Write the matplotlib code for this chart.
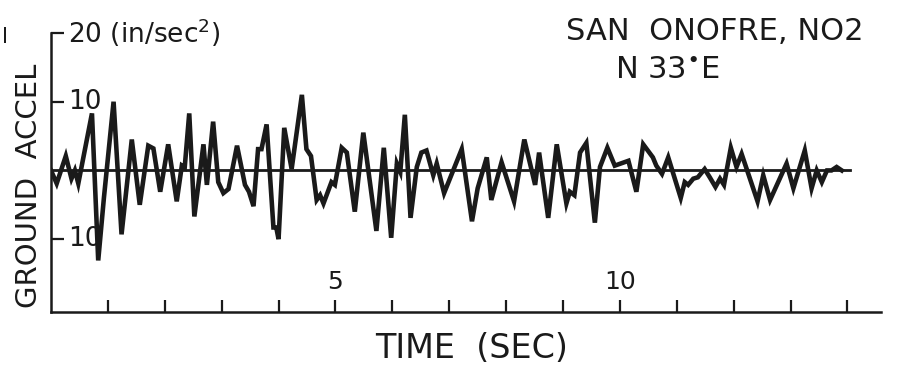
import numpy as np
import matplotlib
matplotlib.use('Agg')
import matplotlib.pyplot as plt

# ground acceleration trace (time in sec, accel in in/sec^2)
time_sec = [0.00, 0.10, 0.26, 0.36, 0.42, 0.48, 0.72, 0.83, 0.93, 1.10,
            1.24, 1.42, 1.56, 1.71, 1.80, 1.92, 2.06, 2.21, 2.30, 2.35,
            2.43, 2.52, 2.68, 2.74, 2.85, 2.94, 3.03, 3.12, 3.27, 3.41,
            3.48, 3.56, 3.64, 3.70, 3.79, 3.91, 3.96, 4.00, 4.10, 4.23,
            4.41, 4.49, 4.57, 4.67, 4.73, 4.79, 4.93, 4.99, 5.11, 5.20,
            5.34, 5.49, 5.72, 5.85, 5.98, 6.08, 6.14, 6.22, 6.32, 6.43,
            6.51, 6.60, 6.72, 6.78, 6.91, 7.22, 7.40, 7.50, 7.66, 7.74,
            7.92, 8.14, 8.32, 8.51, 8.58, 8.74, 8.89, 9.06, 9.12, 9.20,
            9.30, 9.41, 9.56, 9.65, 9.78, 9.91, 10.15, 10.29, 10.41, 10.58,
            10.64, 10.74, 10.85, 11.07, 11.14, 11.20, 11.29, 11.37, 11.49, 11.58,
            11.68, 11.76, 11.83, 11.95, 12.05, 12.14, 12.42, 12.52, 12.64, 12.93,
            13.05, 13.25, 13.37, 13.46, 13.55, 13.64, 13.72, 13.81, 13.90]
accel = [0.0, -1.9, 2.1, -1.2, 0.0, -1.9, 8.3, -13.1, -4.0, 10.0,
         -9.3, 4.5, -5.0, 3.6, 3.2, -3.1, 3.8, -4.5, 0.7, 0.4,
         8.3, -6.7, 3.8, -2.1, 7.1, -1.7, -3.3, -2.7, 3.6, -2.1,
         -3.1, -5.2, 3.1, 3.1, 6.7, -8.3, -8.3, -10.0, 6.2, 0.2,
         11.0, 3.1, 2.1, -4.3, -3.6, -4.8, -1.7, -2.1, 3.3, 2.6,
         -6.0, 5.5, -8.8, 3.3, -9.8, 1.0, -0.2, 8.1, -6.9, 0.5,
         2.6, 2.9, -0.7, 1.0, -3.3, 3.1, -7.4, -2.6, 1.9, -4.3,
         1.2, -4.5, 4.5, -2.1, 2.6, -6.9, 3.8, -4.8, -3.1, -3.6,
         2.6, 4.0, -7.6, 0.5, 3.3, 0.7, 1.4, -3.1, 3.8, 1.9,
         0.7, -0.5, 1.9, -4.0, -1.7, -2.1, -1.2, -1.0, 0.2, -1.0,
         -2.4, -1.2, -2.1, 3.3, 0.5, 2.4, -4.5, -0.7, -4.3, 1.0,
         -2.6, 2.9, -2.6, 0.0, -1.7, 0.0, 0.0, 0.5, 0.0]

x_ticks = list(range(1, 15))
x_labels = {5: '5', 10: '10'}
y_ticks = [-10, 10, 20]
y_labels = {-10: '10', 10: '10', 20: '20 (in/sec$^2$)'}
zero_line_end = 14.04

W, H = 904, 366
fig = plt.figure(figsize=(W / 100, H / 100), dpi=100)
ax = fig.add_axes([51 / W, (H - 312) / H, 830 / W, (312 - 33) / H])
ax.set_xlim(0, 14.59)
ax.set_ylim(-20.6, 20)

ink = '#1a1a1a'
ax.plot([0, zero_line_end], [0, 0], color=ink, lw=2.0, zorder=2)
ax.plot(time_sec, accel, color=ink, lw=3.3, solid_joinstyle='miter', zorder=3)

for s in ['top', 'right']:
    ax.spines[s].set_visible(False)
for s in ['left', 'bottom']:
    ax.spines[s].set_linewidth(1.8)
    ax.spines[s].set_color(ink)

ax.set_xticks(x_ticks)
ax.set_yticks(y_ticks)
ax.tick_params(direction='in', length=9, width=1.6, color=ink,
               labelbottom=False, labelleft=False)

for t, lab in x_labels.items():
    ax.text(t, -16.2, lab, ha='center', va='center', fontsize=18, color=ink)
for v, lab in y_labels.items():
    ax.text(0.3, v, lab, ha='left', va='center', fontsize=19, color=ink)

fig.text(29 / W, 1 - 186 / H, 'GROUND  ACCEL', rotation=90, ha='center',
         va='center', fontsize=21, color=ink)
fig.text(472 / W, 1 - 348 / H, 'TIME  (SEC)', ha='center', va='center',
         fontsize=24, color=ink)
fig.text(715 / W, 1 - 32 / H, 'SAN  ONOFRE, NO2', ha='center', va='center',
         fontsize=22, color=ink)
fig.text(668 / W, 1 - 70 / H, 'N 33$^{\\bullet}$E', ha='center', va='center',
         fontsize=22, color=ink)
fig.text(5 / W, 1 - 37 / H, 'I', ha='center', va='center', fontsize=15, color=ink)

fig.savefig('out.png', dpi=100)
